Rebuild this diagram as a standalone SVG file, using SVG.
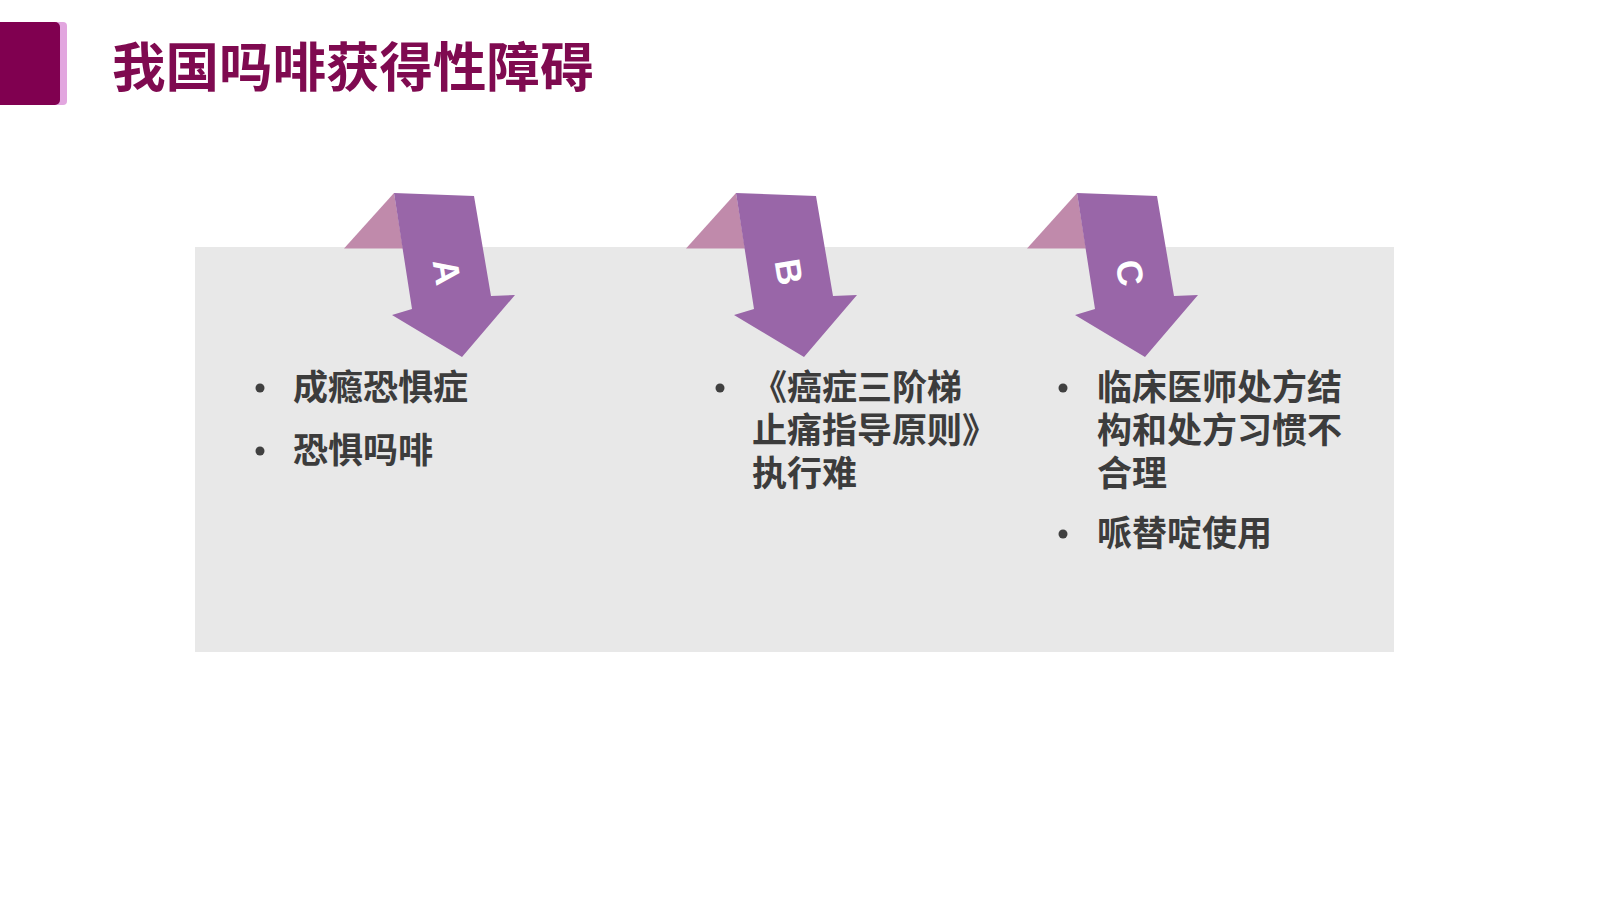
<svg xmlns="http://www.w3.org/2000/svg" width="1600" height="900" viewBox="0 0 1600 900">
<style>
.t{font-family:"Noto Sans CJK SC","Liberation Sans",sans-serif;font-weight:bold;font-size:35px;fill:#3c3c3c}
.ttl{font-family:"Noto Sans CJK SC","Liberation Sans",sans-serif;font-weight:bold;font-size:53.5px;fill:#7f0a50}
.shaft{fill:#9966a8}
.fold{fill:#c08aab}
.lt{font-family:"Liberation Sans",Arial,sans-serif;font-weight:bold;font-size:36px;fill:#ffffff}
.dot{fill:#404040}
</style>
<defs>
<g id="arrow">
<polygon class="fold" points="394,193 344,248.5 403,248.5"/>
<polygon class="shaft" points="394,193 474,196 491,296 515,295 462,357 392,315 412,309"/>
</g>
</defs>
<rect width="1600" height="900" fill="#ffffff"/>
<g id="header">
<rect x="-10" y="22" width="77" height="83" rx="4" fill="#e2a6df"/>
<rect x="-10" y="22" width="70" height="83" rx="5" fill="#800050"/>
<text class="ttl" x="112" y="87">我国吗啡获得性障碍</text>
</g>
<g id="panel">
<rect x="195" y="247" width="1199" height="405" fill="#e8e8e8"/>
</g>
<g id="connectors">
<g id="arrowA">
<use href="#arrow"/>
<text class="lt" x="0" y="0" text-anchor="middle" dominant-baseline="central" transform="translate(447,272) rotate(81)">A</text>
</g>
<g id="arrowB">
<use href="#arrow" transform="translate(342,0)"/>
<text class="lt" x="0" y="0" text-anchor="middle" dominant-baseline="central" transform="translate(789,272) rotate(81)">B</text>
</g>
<g id="arrowC">
<use href="#arrow" transform="translate(683,0)"/>
<text class="lt" x="0" y="0" text-anchor="middle" dominant-baseline="central" transform="translate(1130,273) rotate(81)">C</text>
</g>
</g>
<g id="colA">
<circle class="dot" cx="260" cy="388" r="4.5"/>
<text class="t" x="293" y="400">成瘾恐惧症</text>
<circle class="dot" cx="260" cy="451" r="4.5"/>
<text class="t" x="293" y="463">恐惧吗啡</text>
</g>
<g id="colB">
<circle class="dot" cx="720" cy="388" r="4.5"/>
<text class="t" x="752" y="400">《癌症三阶梯</text>
<text class="t" x="752" y="443">止痛指导原则》</text>
<text class="t" x="752" y="486">执行难</text>
</g>
<g id="colC">
<circle class="dot" cx="1063" cy="388" r="4.5"/>
<text class="t" x="1097" y="400">临床医师处方结</text>
<text class="t" x="1097" y="443">构和处方习惯不</text>
<text class="t" x="1097" y="486">合理</text>
<circle class="dot" cx="1063" cy="534" r="4.5"/>
<text class="t" x="1097" y="546">哌替啶使用</text>
</g>
</svg>
